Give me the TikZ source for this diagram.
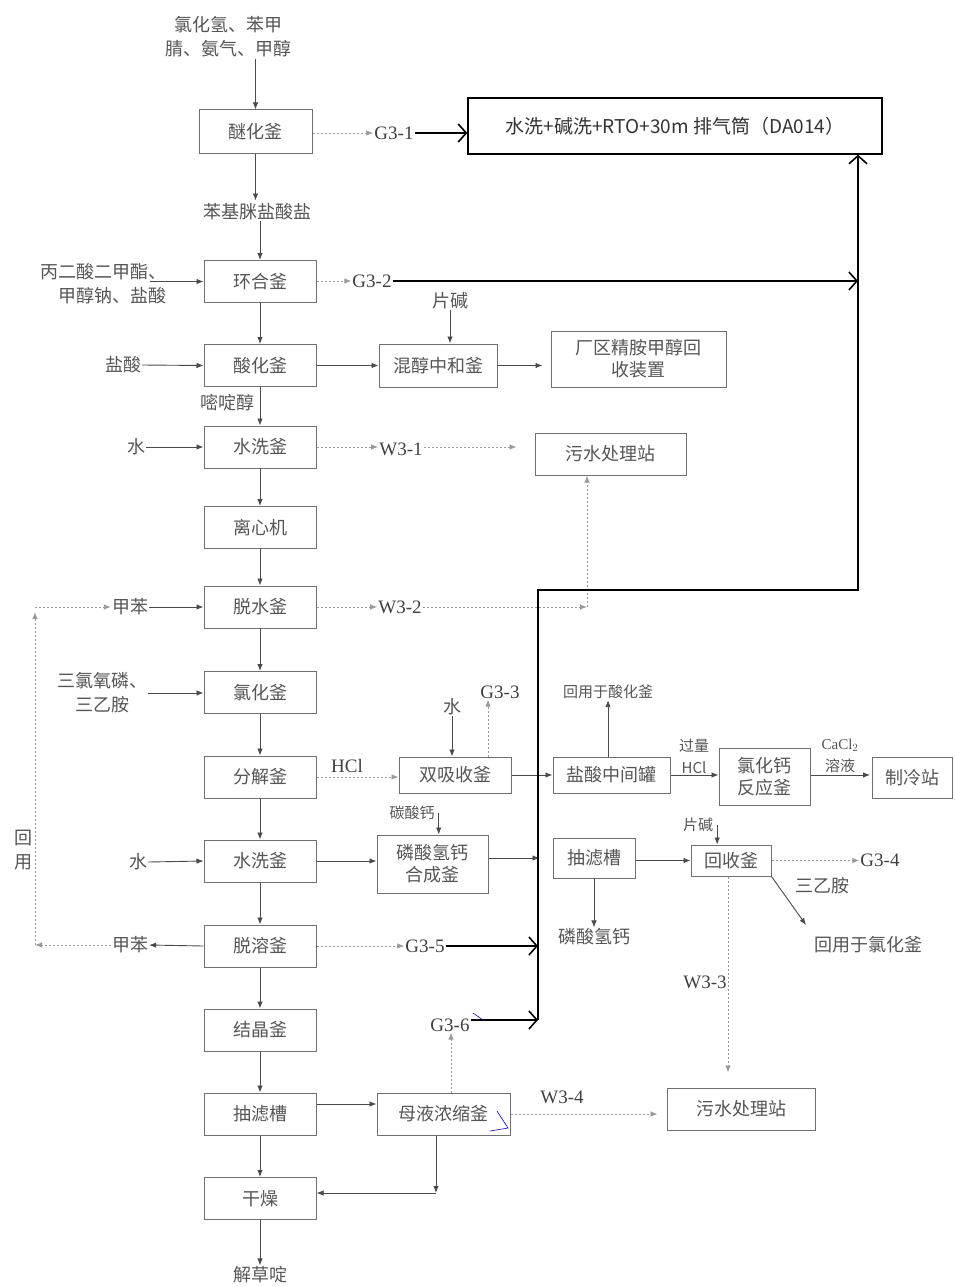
\documentclass[tikz,border=0pt]{standalone}
\usepackage{fontspec}
\setmainfont{Liberation Serif}
\newfontfamily\cjk{Noto Sans CJK SC}
\usetikzlibrary{arrows.meta}
\definecolor{txtc}{HTML}{555555}
\definecolor{boxc}{HTML}{707070}
\definecolor{linec}{HTML}{4A4A4A}
\definecolor{dotc}{HTML}{9A9A9A}
\tikzset{
  box/.style={draw=boxc, line width=1pt, font=\cjk\fontsize{18}{22}\selectfont, text=txtc, inner sep=0pt, align=center},
  colbox/.style={box, minimum width=112pt, minimum height=42pt},
  lbl/.style={font=\cjk\fontsize{18}{24}\selectfont, text=txtc, inner sep=1pt, align=center},
  slbl/.style={font=\cjk\fontsize{15}{22}\selectfont, text=txtc, inner sep=1pt, align=center},
  glbl/.style={font=\fontsize{19}{22}\selectfont, text=black!75, inner sep=1pt},
  arr/.style={draw=linec, line width=0.9pt, -{Latex[length=7pt,width=5.5pt]}},
  darr/.style={draw=dotc, line width=0.9pt, dash pattern=on 2pt off 2pt, -{Latex[length=7pt,width=5.5pt]}},
  thk/.style={draw=black, line width=1.6pt, -{Straight Barb[length=8pt,width=18pt,line width=1.6pt]}}
}
\begin{document}
\begin{tikzpicture}[x=1pt,y=-1pt]
\useasboundingbox (0,0) rectangle (954,1287);
\fill[white] (0,0) rectangle (954,1287);

% ---------- boxes ----------
\node[box, line width=1.4pt, draw=black, minimum width=414pt, minimum height=56pt, font=\cjk\fontsize{19}{22}\selectfont, text=black!80] (DA) at (675,126) {水洗+碱洗+RTO+30m 排气筒（DA014）};
\node[colbox, minimum width=113pt, minimum height=43pt] (ether) at (255.5,131.5) {醚化釜};
\node[colbox] (cyc) at (260,281.5) {环合釜};
\node[colbox] (acid) at (260,365.5) {酸化釜};
\node[box, minimum width=118pt, minimum height=43pt] (mix) at (438,365.5) {混醇中和釜};
\node[box, minimum width=175pt, minimum height=56pt] (rec) at (638.5,359) {厂区精胺甲醇回\\收装置};
\node[colbox] (wash1) at (260,447) {水洗釜};
\node[box, minimum width=151pt, minimum height=42pt] (sew1) at (610.5,454) {污水处理站};
\node[colbox] (cent) at (260,527.5) {离心机};
\node[colbox] (dehyd) at (260,607) {脱水釜};
\node[colbox] (chlor) at (260,692.5) {氯化釜};
\node[colbox] (decomp) at (260,777) {分解釜};
\node[box, minimum width=112pt, minimum height=36pt] (abs) at (455,775) {双吸收釜};
\node[box, minimum width=117pt, minimum height=36pt] (hcltank) at (611.5,775) {盐酸中间罐};
\node[box, minimum width=91pt, minimum height=57pt] (cacl) at (764.5,776.5) {氯化钙\\反应釜};
\node[box, minimum width=80pt, minimum height=41pt] (cold) at (912.5,777.5) {制冷站};
\node[colbox] (wash2) at (260,861) {水洗釜};
\node[box, minimum width=111pt, minimum height=58pt] (cap) at (432.5,864) {磷酸氢钙\\合成釜};
\node[box, minimum width=82pt, minimum height=40pt] (filt1) at (594,858) {抽滤槽};
\node[box, minimum width=80pt, minimum height=31pt] (recov) at (731,860.5) {回收釜};
\node[colbox] (desolv) at (260,946) {脱溶釜};
\node[colbox] (cryst) at (260,1030) {结晶釜};
\node[colbox] (filt2) at (260,1114) {抽滤槽};
\node[box, minimum width=133pt, minimum height=42pt] (mother) at (443.5,1114) {母液浓缩釜};
\node[box, minimum width=148pt, minimum height=42pt] (sew2) at (741,1109) {污水处理站};
\node[colbox] (dry) at (260,1198.5) {干燥};

% ---------- labels ----------
\node[lbl] (feed) at (228,37) {氯化氢、苯甲\\腈、氨气、甲醇};
\node[lbl] (benz) at (257,212) {苯基脒盐酸盐};
\node[lbl, align=right, anchor=east] (feed2) at (168,284) {丙二酸二甲酯、\\甲醇钠、盐酸};
\node[lbl] (pj1) at (450,301) {片碱};
\node[lbl] (ys) at (123,365) {盐酸};
\node[lbl] (mdc) at (227,403) {嘧啶醇};
\node[lbl] (sh1) at (136,447) {水};
\node[lbl] (jb1) at (130,607) {甲苯};
\node[lbl] (sanlv) at (102,693) {三氯氧磷、\\三乙胺};
\node[lbl] (sh2) at (452,707) {水};
\node[slbl] (hy1) at (608,692) {回用于酸化釜};
\node[slbl] (gl) at (694,756) {过量\\HCl};
\node[slbl] (ccl) at (840,756) {\fontspec{Liberation Serif}CaCl$_2$\\溶液};
\node[slbl] (ts) at (412,813) {碳酸钙};
\node[lbl] (sh3) at (138,862) {水};
\node[slbl] (pj2) at (698,825) {片碱};
\node[lbl] (sya) at (822,886) {三乙胺};
\node[lbl] (hy2) at (868,945) {回用于氯化釜};
\node[lbl] (lsqg) at (594,937) {磷酸氢钙};
\node[lbl] (jb2) at (130,945) {甲苯};
\node[lbl] (hy) at (23,850) {回\\用};
\node[lbl] (jcd) at (260,1275) {解草啶};

\node[glbl] (g31) at (394,133) {G3-1};
\node[glbl] (g32) at (372,281) {G3-2};
\node[glbl] (w31) at (401,449) {W3-1};
\node[glbl] (w32) at (400,607) {W3-2};
\node[glbl] (hcl) at (347,766) {HCl};
\node[glbl] (g33) at (500,692) {G3-3};
\node[glbl] (g34) at (880,860) {G3-4};
\node[glbl] (g35) at (425,946) {G3-5};
\node[glbl] (w33) at (705,982) {W3-3};
\node[glbl] (g36) at (450,1025) {G3-6};
\node[glbl] (w34) at (562,1097) {W3-4};

% ---------- free ends ----------
\coordinate (tk2) at (858,281);
\coordinate (tkc1) at (538,1020);
\coordinate (tkc2) at (538,590);
\coordinate (tkc3) at (858,590);
\coordinate (g5end) at (538,946);
\coordinate (w2end) at (587,607);
\coordinate (rcb) at (35,945);
\coordinate (rct) at (35,607);
\coordinate (hy2tip) at (806,925);
\coordinate (mcorner) at (436,1193);

% ---------- process connectors ----------
\draw[arr] (ether.north |- feed.south) -- (ether.north);
\draw[arr, shorten >=2pt] (ether.south) -- (ether.south |- benz.north);
\draw[arr] (cyc.north |- benz.south) -- (cyc.north);
\draw[arr, shorten <=-18pt] (feed2.east |- cyc.west) -- (cyc.west);
\draw[arr] (cyc) -- (acid);
\draw[arr] (ys.east) -- (acid.west);
\draw[arr] (acid.east) -- (mix.west);
\draw[arr] (pj1.south) -- (pj1.south |- mix.north);
\draw[arr, shorten >=8pt] (mix.east) -- (rec.west |- mix.east);
\draw[arr] (acid) -- (wash1);
\draw[arr] (sh1.east) -- (wash1.west);
\draw[darr] (wash1.east) -- (wash1.east -| w31.west);
\draw[darr, shorten >=18pt] (w31.east |- wash1.east) -- (wash1.east -| sew1.west);
\draw[arr] (wash1) -- (cent);
\draw[arr] (cent) -- (dehyd);
\draw[arr] (jb1.east) -- (dehyd.west);
\draw[darr] (dehyd.east) -- (w32.west);
\draw[darr] (w32.east) -- (w2end);
\draw[darr] (w2end) -- (w2end |- sew1.south);
\draw[arr] (dehyd) -- (chlor);
\draw[arr] (sanlv.east) -- (sanlv.east -| chlor.west);
\draw[arr] (chlor) -- (decomp);
\draw[darr] (decomp.east) -- (decomp.east -| abs.west);
\draw[arr] (sh2.south) -- (sh2.south |- abs.north);
\draw[darr] ([xshift=33pt]abs.north) -- ([xshift=33pt]abs.north |- g33.south);
\draw[arr] (abs.east) -- (hcltank.west);
\draw[arr] (hy1.south |- hcltank.north) -- (hy1.south);
\draw[arr] (hcltank.east) -- (hcltank.east -| cacl.west);
\draw[arr, shorten >=2pt] (cacl.east |- hcltank.east) -- (cold.west |- hcltank.east);
\draw[arr] (decomp) -- (wash2);
\draw[arr] (sh3.east) -- (wash2.west);
\draw[arr] (wash2.east) -- (wash2.east -| cap.west);
\draw[arr] ([xshift=3pt]ts.east) -- ([xshift=3pt]ts.east |- cap.north);
\draw[arr, shorten >=13pt] (cap.east |- filt1.west) -- (filt1.west);
\draw[arr] (filt1.east |- recov.west) -- (recov.west);
\draw[arr] ([xshift=3pt]pj2.east) -- ([xshift=3pt]pj2.east |- recov.north);
\draw[darr] (recov.east) -- (recov.east -| g34.west);
\draw[arr] (recov.south east) -- (hy2tip);
\draw[arr] (filt1.south) -- (filt1.south |- lsqg.north);
\draw[darr, shorten >=15pt] ([xshift=-3pt]recov.south) -- ([xshift=-3pt]recov.south |- sew2.north);
\draw[arr] (wash2) -- (desolv);
\draw[arr] (desolv.west) -- (jb2.east);
\draw[darr] (jb2.west) -- (rcb);
\draw[darr] (rcb) -- ([yshift=-5pt]rct);
\draw[darr] (rct) -- (jb1.west);
\draw[darr] (desolv.east) -- (g35.west);
\draw[thk] (g35.east) -- (g5end);
\draw[arr] (desolv) -- (cryst);
\draw[arr] (cryst) -- (filt2);
\draw[arr] (filt2) -- (dry);
\draw[arr] (dry.south) -- (dry.south |- jcd.north);
\draw[arr] ([yshift=10pt]filt2.east) -- ([yshift=10pt]filt2.east -| mother.west);
\draw[darr] ([xshift=7.5pt]mother.north) -- ([xshift=7.5pt]mother.north |- g36.south);
\draw[arr] (mother.south -| mcorner) -- (mcorner);
\draw[arr] (mcorner) -- (mcorner -| dry.east);
\draw[darr, shorten >=9pt] (mother.east) -- (mother.east -| sew2.west);

% ---------- thick exhaust lines ----------
\draw[darr] (ether.east |- g31.west) -- (g31.west);
\draw[thk] (g31.east) -- (g31.east -| DA.west);
\draw[darr] (cyc.east |- g32.west) -- (g32.west);
\draw[thk] (g32.east) -- (tk2);
\draw[thk] (g36.east |- tkc1) -- (tkc1);
\draw[thk] (tkc1) -- (tkc2) -- (tkc3) -- (tkc3 |- DA.south);

% small blue marks
\draw[blue!70!black, line width=0.6pt] (497,1111) -- (508,1128) -- (490,1131);
\draw[blue!70!black, line width=0.6pt] (473,1013) -- (483,1020);
\end{tikzpicture}
\end{document}
